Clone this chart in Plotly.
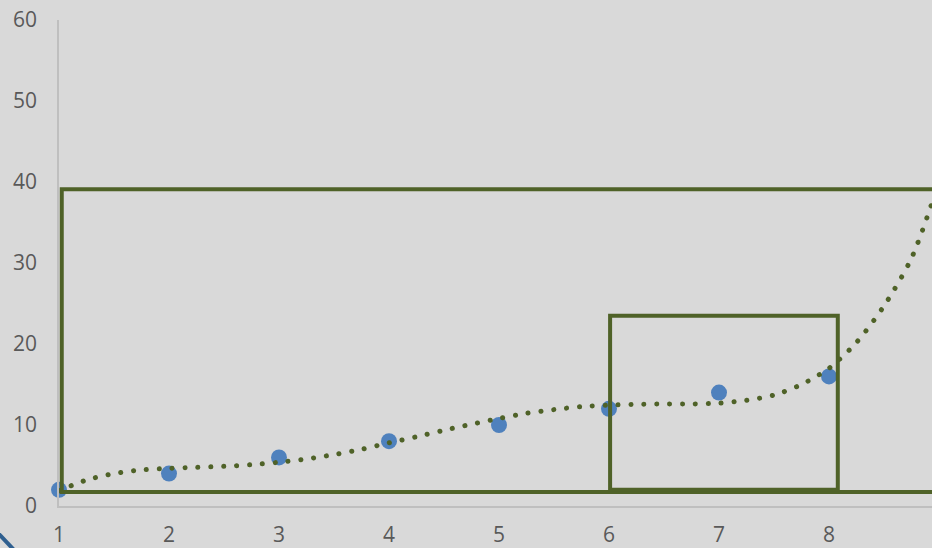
import plotly.graph_objects as go

x_vals = [1, 2, 3, 4, 5, 6, 7, 8, 9]
y_vals = [2, 4, 6, 8, 10, 12, 14, 16, 40]
x_ticks = [1, 2, 3, 4, 5, 6, 7, 8]
y_ticks = [0, 10, 20, 30, 40, 50, 60]

# trendline values
trend_x = [1.0, 1.25, 1.5, 1.75, 2.0, 2.25, 2.5, 2.75, 3.0, 3.25, 3.5, 3.75, 4.0,
           4.25, 4.5, 4.75, 5.0, 5.25, 5.5, 5.75, 6.0, 6.25, 6.5, 6.75, 7.0, 7.25,
           7.5, 7.75, 8.0, 8.25, 8.5, 8.75, 9.0]
trend_y = [1.9, 3.2, 4.0, 4.45, 4.65, 4.77, 4.9, 5.1, 5.4, 5.8, 6.35, 7.0, 7.8,
           8.55, 9.35, 10.1, 10.8, 11.45, 11.9, 12.27, 12.45, 12.55, 12.6, 12.6, 12.7,
           13.05, 13.7, 15.0, 17.0, 20.2, 24.7, 30.6, 40.0]

BG = "#d9d9d9"
GREEN = "#4f6228"
BLUE = "#4f81bd"

fig = go.Figure()
fig.add_trace(go.Scatter(x=x_vals, y=y_vals, mode="markers",
                         marker=dict(color=BLUE, size=16),
                         cliponaxis=False, showlegend=False))
fig.add_trace(go.Scatter(x=trend_x, y=trend_y, mode="lines",
                         line=dict(color=GREEN, width=5, dash="0.1px,12.8px",
                                   shape="spline", smoothing=0.8),
                         hoverinfo="skip", showlegend=False))

fig.add_shape(type="rect", xref="x", yref="y", x0=1.025, x1=9.5, y0=1.73, y1=39.1,
              line=dict(color=GREEN, width=4), layer="above")
fig.add_shape(type="rect", xref="x", yref="y", x0=6.01, x1=8.08, y0=2.0, y1=23.5,
              line=dict(color=GREEN, width=4), layer="above")
fig.add_shape(type="line", xref="paper", yref="paper", x0=-0.0699, y0=-0.0555,
              x1=-0.0515, y1=-0.0905, line=dict(color="#2f5f8f", width=4))

font = dict(family="Open Sans, Noto Sans, sans-serif", size=21, color="#595959")
fig.update_xaxes(range=[1, 1 + 873 / 110], tickvals=x_ticks, showgrid=False,
                 zeroline=False, showline=True, linecolor="#bfbfbf", linewidth=1.5,
                 ticks="outside", ticklen=9, tickcolor=BG, tickfont=font,
                 automargin=False)
fig.update_yaxes(range=[0, 60], tickvals=y_ticks, showgrid=False, zeroline=False,
                 showline=True, linecolor="#bfbfbf", linewidth=1.5,
                 ticks="outside", ticklen=16, tickcolor=BG, tickfont=font,
                 automargin=False)
fig.update_layout(width=932, height=548, paper_bgcolor=BG, plot_bgcolor=BG,
                  margin=dict(l=59, r=0, t=20, b=42, autoexpand=False),
                  showlegend=False)

fig.write_html("out.html", config={"displayModeBar": False}, post_script="""
document.body.style.margin='0';
document.body.style.background='#d9d9d9';
document.body.style.overflow='hidden';
function rc(){document.querySelectorAll('.js-line').forEach(function(p){p.style.strokeLinecap='round';});}
rc(); setTimeout(rc, 50); setTimeout(rc, 300);
""")
